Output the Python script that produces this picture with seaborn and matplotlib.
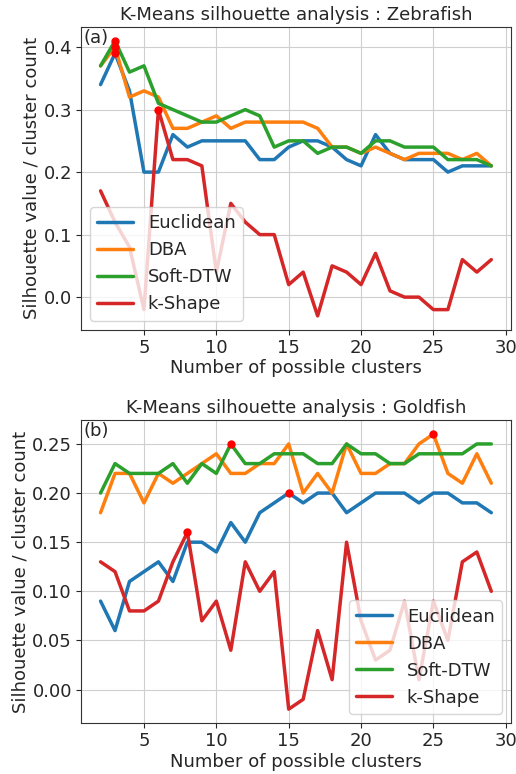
import matplotlib
matplotlib.use("Agg")
import matplotlib.pyplot as plt
import seaborn as sns
import pandas as pd
import numpy as np

clusters = list(range(2, 30))
methods = ["Euclidean", "DBA", "Soft-DTW", "k-Shape"]

# (a) Zebrafish
zebra_euclidean = [0.34, 0.39, 0.33, 0.20, 0.20, 0.26, 0.24, 0.25, 0.25, 0.25, 0.25, 0.22, 0.22, 0.24,
                   0.25, 0.25, 0.24, 0.22, 0.21, 0.26, 0.23, 0.22, 0.22, 0.22, 0.20, 0.21, 0.21, 0.21]
zebra_dba = [0.37, 0.40, 0.32, 0.33, 0.32, 0.27, 0.27, 0.28, 0.29, 0.27, 0.28, 0.28, 0.28, 0.28,
             0.28, 0.27, 0.24, 0.24, 0.23, 0.24, 0.23, 0.22, 0.23, 0.23, 0.23, 0.22, 0.23, 0.21]
zebra_softdtw = [0.37, 0.41, 0.36, 0.37, 0.31, 0.30, 0.29, 0.28, 0.28, 0.29, 0.30, 0.29, 0.24, 0.25,
                 0.25, 0.23, 0.24, 0.24, 0.23, 0.25, 0.25, 0.24, 0.24, 0.24, 0.22, 0.22, 0.22, 0.21]
zebra_kshape = [0.17, 0.12, 0.08, -0.02, 0.30, 0.22, 0.22, 0.21, 0.04, 0.15, 0.12, 0.10, 0.10, 0.02,
                0.04, -0.03, 0.05, 0.04, 0.02, 0.07, 0.01, 0.00, 0.00, -0.02, -0.02, 0.06, 0.04, 0.06]

# (b) Goldfish
gold_euclidean = [0.09, 0.06, 0.11, 0.12, 0.13, 0.11, 0.15, 0.15, 0.14, 0.17, 0.15, 0.18, 0.19, 0.20,
                  0.19, 0.20, 0.20, 0.18, 0.19, 0.20, 0.20, 0.20, 0.19, 0.20, 0.20, 0.19, 0.19, 0.18]
gold_dba = [0.18, 0.22, 0.22, 0.19, 0.22, 0.21, 0.22, 0.23, 0.24, 0.22, 0.22, 0.23, 0.23, 0.25,
            0.20, 0.22, 0.20, 0.25, 0.22, 0.22, 0.23, 0.23, 0.25, 0.26, 0.22, 0.21, 0.24, 0.21]
gold_softdtw = [0.20, 0.23, 0.22, 0.22, 0.22, 0.23, 0.21, 0.23, 0.22, 0.25, 0.23, 0.23, 0.24, 0.24,
                0.24, 0.23, 0.23, 0.25, 0.24, 0.24, 0.23, 0.23, 0.24, 0.24, 0.24, 0.24, 0.25, 0.25]
gold_kshape = [0.13, 0.12, 0.08, 0.08, 0.09, 0.13, 0.16, 0.07, 0.09, 0.04, 0.13, 0.10, 0.12, -0.02,
               -0.01, 0.06, 0.01, 0.15, 0.07, 0.03, 0.04, 0.09, 0.01, 0.09, 0.05, 0.13, 0.14, 0.10]

panels = [
    ("K-Means silhouette analysis : Zebrafish", "(a)", "lower left",
     [zebra_euclidean, zebra_dba, zebra_softdtw, zebra_kshape]),
    ("K-Means silhouette analysis : Goldfish", "(b)", "lower right",
     [gold_euclidean, gold_dba, gold_softdtw, gold_kshape]),
]

sns.set_style("ticks", {"axes.grid": True, "grid.color": "#cfcfcf",
                        "axes.edgecolor": "#333333"})
plt.rcParams["font.family"] = ["DejaVu Sans"]
plt.rcParams["font.size"] = 13
plt.rcParams["xtick.major.size"] = 3.5
plt.rcParams["ytick.major.size"] = 3.5
plt.rcParams["xtick.major.pad"] = 3
plt.rcParams["ytick.major.pad"] = 3
plt.rcParams["axes.titlepad"] = 5
plt.rcParams["axes.labelpad"] = 2

fig, axes = plt.subplots(2, 1, figsize=(5.16, 7.74), dpi=100)
palette = sns.color_palette("tab10", 4)

for ax, (title, tag, legend_loc, series) in zip(axes, panels):
    df = pd.DataFrame([{"clusters": k, "score": v, "method": m}
                       for m, vals in zip(methods, series) for k, v in zip(clusters, vals)])
    sns.lineplot(data=df, x="clusters", y="score", hue="method", hue_order=methods,
                 palette=palette, linewidth=2.5, ax=ax)
    # red dot on the best score of each method
    for vals in series:
        best = int(np.argmax(vals))
        ax.plot(clusters[best], vals[best], "o", color="red", markersize=5, zorder=5)
    ax.set_title(title, fontsize=13)
    ax.set_xlabel("Number of possible clusters", fontsize=13)
    ax.set_ylabel("Silhouette value / cluster count", fontsize=13)
    ax.tick_params(labelsize=13)
    ax.set_xticks([5, 10, 15, 20, 25, 30])
    ax.text(0.005, 0.995, tag, transform=ax.transAxes, ha="left", va="top", fontsize=13)
    ax.legend(loc=legend_loc, fontsize=13, title=None)

plt.subplots_adjust(left=0.157, right=0.99, top=0.965, bottom=0.066, hspace=0.30)
plt.savefig("out.png", dpi=100)
